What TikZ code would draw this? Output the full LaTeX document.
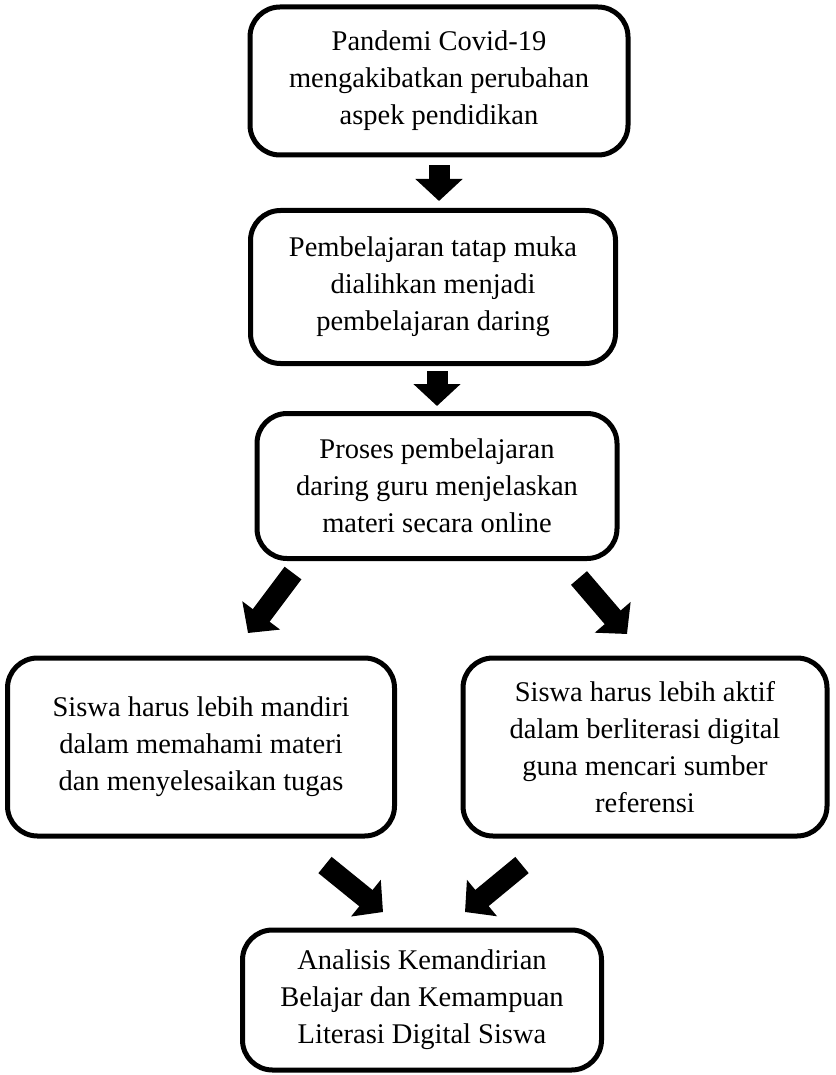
\documentclass[tikz,border=0pt]{standalone}
\usepackage{fontspec}
\setmainfont{Liberation Serif}
\usetikzlibrary{arrows.meta}

\tikzset{
	flowbox/.style={rectangle,
		draw = black,
		text = black,
		line width = 5pt,
		rounded corners = 30pt,
		align = center,
		inner sep = 0pt,
		font = \fontsize{28.5}{37}\selectfont},
	bigarrow/.style={black, line width = 21pt, -{Triangle[width=46pt,length=22pt]}}
}

\begin{document}
\begin{tikzpicture}[x=1pt,y=-1pt]
	
	\useasboundingbox (0,0) rectangle (835,1075);
	
	\node[flowbox, minimum width = 378pt, minimum height = 148pt] (pandemi) at (439,81) {Pandemi Covid-19\\ mengakibatkan perubahan\\ aspek pendidikan};
	
	\node[flowbox, minimum width = 365pt, minimum height = 153pt] (daring) at (433,287) {Pembelajaran tatap muka\\ dialihkan menjadi\\ pembelajaran daring};
	
	\node[flowbox, minimum width = 360pt, minimum height = 145pt] (proses) at (437,486) {Proses pembelajaran\\ daring guru menjelaskan\\ materi secara online};
	
	\node[flowbox, minimum width = 387pt, minimum height = 178pt] (mandiri) at (201,747) {Siswa harus lebih mandiri\\ dalam memahami materi\\ dan menyelesaikan tugas};
	
	\node[flowbox, minimum width = 364pt, minimum height = 178pt] (aktif) at (645,747) {Siswa harus lebih aktif\\ dalam berliterasi digital\\ guna mencari sumber\\ referensi};
	
	\node[flowbox, minimum width = 359pt, minimum height = 140pt] (analisis) at (422,1000) {Analisis Kemandirian\\ Belajar dan Kemampuan\\ Literasi Digital Siswa};
	
	
	% ends of the slanted arrows
	\coordinate (ml) at (293,573);
	\coordinate (mlt) at (248,633);
	\coordinate (mr) at (579,578);
	\coordinate (mrt) at (627,634);
	\coordinate (bl) at (325,865);
	\coordinate (blt) at (383,912);
	\coordinate (br) at (522,865);
	\coordinate (brt) at (465,912);
	
	\draw[bigarrow, shorten <=8pt, shorten >=7pt] (pandemi.south) to (pandemi.south |- daring.north);
	\draw[bigarrow, shorten <=5pt, shorten >=5pt] (proses.north |- daring.south) to (proses.north);
	
	\draw[bigarrow] (ml) to (mlt);
	\draw[bigarrow] (mr) to (mrt);
	\draw[bigarrow] (bl) to (blt);
	\draw[bigarrow] (br) to (brt);
	
\end{tikzpicture}
\end{document}
